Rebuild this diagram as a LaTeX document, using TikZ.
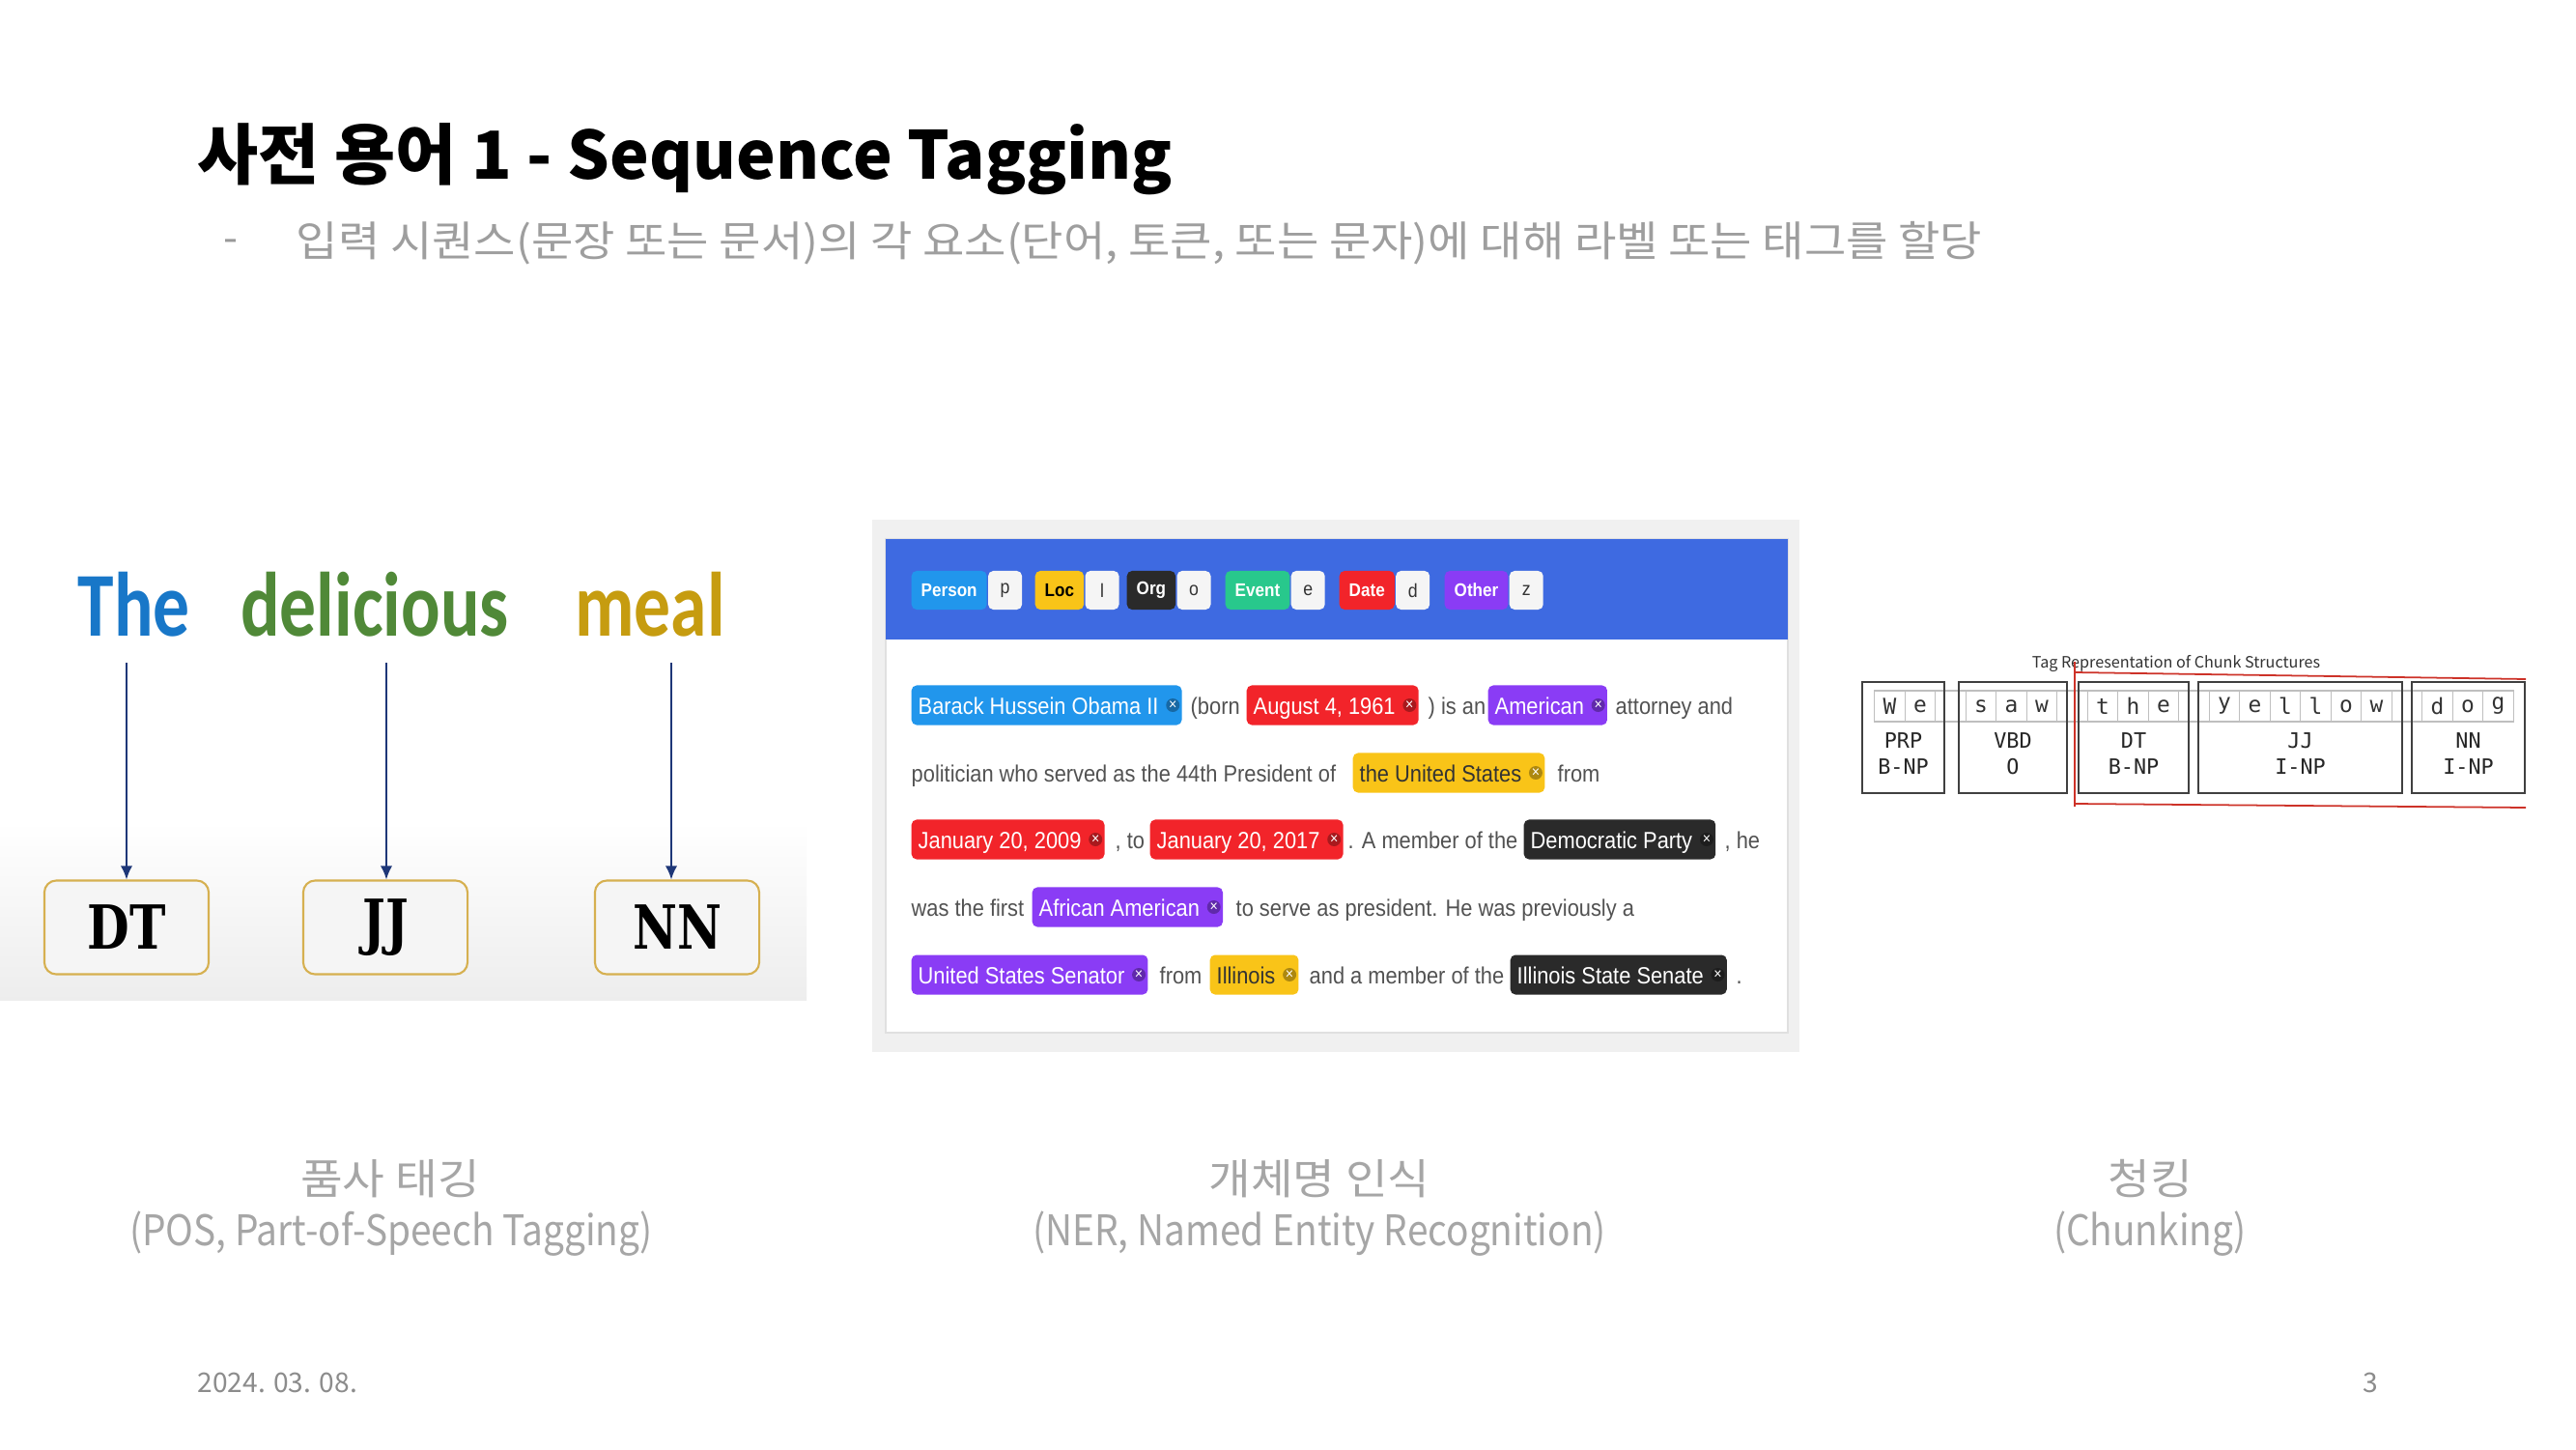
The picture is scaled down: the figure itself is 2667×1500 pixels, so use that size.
\documentclass[tikz,border=0pt]{standalone}
\usepackage{fontspec}
\usepackage{graphicx}
\setmainfont{Noto Sans CJK KR}
\newfontfamily\widefont[FakeStretch=1.09]{Noto Sans CJK KR}
\newfontfamily\capfont[FakeStretch=0.89]{Noto Sans CJK KR}
\newfontfamily\nerfont[FakeStretch=0.9]{Liberation Sans}
\newfontfamily\wordfont{Carlito}
\newfontfamily\postagfont{DejaVu Serif}
\newfontfamily\chunkfont{DejaVu Sans Mono}
\usetikzlibrary{positioning, arrows.meta}
\definecolor{posblue}{RGB}{24,119,200}
\definecolor{posgreen}{RGB}{80,137,56}
\definecolor{posgold}{RGB}{198,156,16}
\definecolor{boxgold}{RGB}{214,176,80}
\definecolor{posnavy}{RGB}{30,55,120}
\definecolor{nerhead}{RGB}{62,106,225}
\definecolor{nerblue}{RGB}{33,150,236}
\definecolor{nerred}{RGB}{242,36,42}
\definecolor{nerpurple}{RGB}{138,60,245}
\definecolor{nergold}{RGB}{249,196,24}
\definecolor{nerdark}{RGB}{42,42,42}
\definecolor{nergreen}{RGB}{40,200,140}
\definecolor{chunkred}{RGB}{205,50,40}

\begin{document}
\begin{tikzpicture}[
    x=0.01cm, y=-0.01cm,
    % POS example
    word/.style={font=\wordfont\bfseries\fontsize{21.5}{24}\selectfont},
    posbox/.style={draw=boxgold, line width=0.6pt, fill=black!4, rounded corners=3.5pt,
      minimum width=1.7cm, minimum height=0.97cm, inner sep=0pt,
      font=\postagfont\bfseries\fontsize{14.3}{16}\selectfont},
    posarrow/.style={-{Latex[length=4pt,width=3.5pt]}, draw=posnavy, line width=0.5pt},
    % NER screenshot
    txt/.style={anchor=west, inner sep=0pt, text=black!68, text height=0.72em, text depth=0.2em,
      font=\nerfont\fontsize{6.9}{8}\selectfont},
    tag/.style={anchor=west, fill=#1, text=white, rounded corners=1.5pt, inner xsep=0.07cm,
      inner ysep=0pt, minimum height=0.41cm, text height=0.72em, text depth=0.2em,
      font=\nerfont\fontsize{6.9}{8}\selectfont},
    xbtn/.style={circle, fill=black, fill opacity=0.3, text opacity=1, text=white, inner sep=0pt,
      minimum size=0.14cm, font=\nerfont\fontsize{4.5}{5}\selectfont},
    htag/.style={anchor=west, fill=#1, rounded corners=1.5pt, inner xsep=0.1cm, inner ysep=0pt,
      minimum height=0.4cm, font=\nerfont\bfseries\fontsize{5.4}{6}\selectfont},
    hkey/.style={fill=black!4, text=black!80, rounded corners=1.5pt, inner sep=0pt,
      minimum width=0.35cm, minimum height=0.4cm, font=\nerfont\fontsize{5.6}{6}\selectfont},
    % chunking figure
    cell/.style={draw=black!25, line width=0.3pt, minimum width=0.315cm, minimum height=0.32cm,
      inner sep=0pt, text=black!80, font=\chunkfont\fontsize{6.5}{7}\selectfont},
    chunk/.style={draw=black!75, line width=0.6pt, minimum height=1.15cm, inner sep=0pt},
    chunklbl/.style={align=center, text=black!85, inner sep=0pt, font=\chunkfont\fontsize{6.2}{7.7}\selectfont},
    redline/.style={draw=chunkred, line width=0.5pt},
    % captions
    capko/.style={text=black!35, inner sep=0pt, font=\widefont\fontsize{12.4}{14}\selectfont},
    capen/.style={text=black!35, inner sep=0pt, font=\capfont\fontsize{12.4}{14}\selectfont}
]
    \useasboundingbox (0,0) rectangle (2667,1500);
    \fill[white] (0,0) rectangle (2667,1500);

    % --- HEADER ---
    \node[anchor=west, inner sep=0pt, font=\bfseries\fontsize{19.5}{22}\selectfont] (title) at (204,165)
        {사전 용어 1 - Sequence Tagging};
    \node[text=black!40, inner sep=0pt, font=\fontsize{12.3}{14}\selectfont] (dash) at (239,255) {-};
    \node[anchor=west, inner sep=0pt, text=black!38, font=\widefont\fontsize{12.3}{14}\selectfont] (subtitle) at (306,252)
        {입력 시퀀스(문장 또는 문서)의 각 요소(단어, 토큰, 또는 문자)에 대해 라벨 또는 태그를 할당};

    % --- POS TAGGING (Left) ---
    \shade[top color=white, bottom color=black!7] (0,850) rectangle (835,1035);
    \node[word, text=posblue] (the) at (139,626) {\scalebox{1}[1.25]{The}};
    \node[word, text=posgreen] (delicious) at (388,626) {\scalebox{1}[1.25]{delicious}};
    \node[word, text=posgold] (meal) at (673,626) {\scalebox{1}[1.25]{meal}};

    \node[posbox] (dt) at (131,960) {\scalebox{1}[1.25]{DT}};
    \node[posbox] (jj) at (399,960) {\scalebox{1}[1.25]{JJ}};
    \node[posbox] (nn) at (701,960) {\scalebox{1}[1.25]{NN}};

    \coordinate (the-a) at (131,686);
    \coordinate (delicious-a) at (400,686);
    \coordinate (meal-a) at (695,686);
    \draw[posarrow] (the-a) -- (dt.north);
    \draw[posarrow] (delicious-a) -- (delicious-a |- jj.north);
    \draw[posarrow] (meal-a) -- (meal-a |- nn.north);

    % --- NER (Middle) ---
    \fill[black!6] (903,538) rectangle (1863,1089);
    \filldraw[fill=white, draw=black!12] (917,558) rectangle (1851,1069);
    \fill[nerhead] (917,558) rectangle (1851,662);

    % key legend
    \foreach \lbl/\n/\col/\x/\k/\tc in {Person/person/nerblue/943/p/white, Loc/loc/nergold/1071/l/black,
        Org/org/nerdark/1166/o/white, Event/event/nergreen/1268/e/white,
        Date/date/nerred/1386/d/white, Other/other/nerpurple/1495/z/white} {
        \node[htag=\col, text=\tc] (\n) at (\x,611) {\lbl};
        \node[hkey, right=0pt of \n] (\n-key) {\k};
    }

    % line 1
    \node[tag=nerblue] (obama) at (943,730) {Barack Hussein Obama II\kern0.17cm};
    \node[txt] (t11) at (1232,730) {(born};
    \node[tag=nerred] (aug) at (1290,730) {August 4, 1961\kern0.17cm};
    \node[txt] (t12) at (1478,730) {) is an};
    \node[tag=nerpurple] (amer) at (1540,730) {American\kern0.17cm};
    \node[txt] (t13) at (1672,730) {attorney and};
    % line 2
    \node[txt] (t21) at (943,800) {politician who served as the 44th President of};
    \node[tag=nergold, text=black!80] (us) at (1400,800) {the United States\kern0.17cm};
    \node[txt] (t22) at (1612,800) {from};
    % line 3
    \node[tag=nerred] (jan09) at (943,869) {January 20, 2009\kern0.17cm};
    \node[txt] (t31) at (1154,869) {, to};
    \node[tag=nerred] (jan17) at (1190,869) {January 20, 2017\kern0.17cm};
    \node[txt] (t32) at (1395,869) {. A member of the};
    \node[tag=nerdark] (dem) at (1577,869) {Democratic Party\kern0.17cm};
    \node[txt] (t33) at (1785,869) {, he};
    % line 4
    \node[txt] (t41) at (943,939) {was the first};
    \node[tag=nerpurple] (afam) at (1068,939) {African American\kern0.17cm};
    \node[txt] (t42) at (1279,939) {to serve as president. He was previously a};
    % line 5
    \node[tag=nerpurple] (senator) at (943,1009) {United States Senator\kern0.17cm};
    \node[txt] (t51) at (1200,1009) {from};
    \node[tag=nergold, text=black!80] (ill) at (1252,1009) {Illinois\kern0.17cm};
    \node[txt] (t52) at (1355,1009) {and a member of the};
    \node[tag=nerdark] (ilsen) at (1563,1009) {Illinois State Senate\kern0.17cm};
    \node[txt] (t53) at (1797,1009) {.};

    \foreach \t in {obama,aug,amer,us,jan09,jan17,dem,afam,senator,ill,ilsen}
        \node[xbtn] (x-\t) at ([xshift=-0.1cm]\t.east) {×};

    % --- CHUNKING (Right) ---
    \node[text=black!80, inner sep=0pt, font=\fontsize{4.6}{5}\selectfont] (chunktitle) at (2253,687)
        {Tag Representation of Chunk Structures};
    \foreach \ch [count=\i from 0] in {W,e,~,s,a,w,~,t,h,e,~,y,e,l,l,o,w,~,d,o,g}
        \node[cell] (c\i) at (1956.5+\i*31.5,731) {\ch};
    \foreach \cx/\w/\ta/\tb [count=\k] in {1970.5/0.85/PRP/B-NP, 2084/1.12/VBD/O, 2209/1.14/DT/B-NP,
        2381.5/2.11/JJ/I-NP, 2555.5/1.17/NN/I-NP} {
        \node[chunk, minimum width=\w cm] (ch\k) at (\cx,763.5) {};
        \node[chunklbl] (lb\k) at (\cx,780) {\ta\\\tb};
    }
    \draw[redline] (2148,685) -- (2148,835);
    \draw[redline] (2148,696) -- (2615,703);
    \draw[redline] (2148,832) -- (2615,836);

    % --- CAPTIONS ---
    \node[capko] (cap-pos-ko) at (404,1220) {품사 태깅};
    \node[capen] (cap-pos-en) at (405,1277) {(POS, Part-of-Speech Tagging)};
    \node[capko] (cap-ner-ko) at (1366,1220) {개체명 인식};
    \node[capen] (cap-ner-en) at (1366,1277) {(NER, Named Entity Recognition)};
    \node[capko] (cap-chunk-ko) at (2226,1220) {청킹};
    \node[capen] (cap-chunk-en) at (2226,1277) {(Chunking)};

    % --- FOOTER ---
    \node[anchor=west, inner sep=0pt, text=black!45, font=\fontsize{8}{9}\selectfont] (date) at (204,1431) {2024. 03. 08.};
    \node[inner sep=0pt, text=black!45, font=\fontsize{8}{9}\selectfont] (page) at (2454,1431) {3};
\end{tikzpicture}
\end{document}
